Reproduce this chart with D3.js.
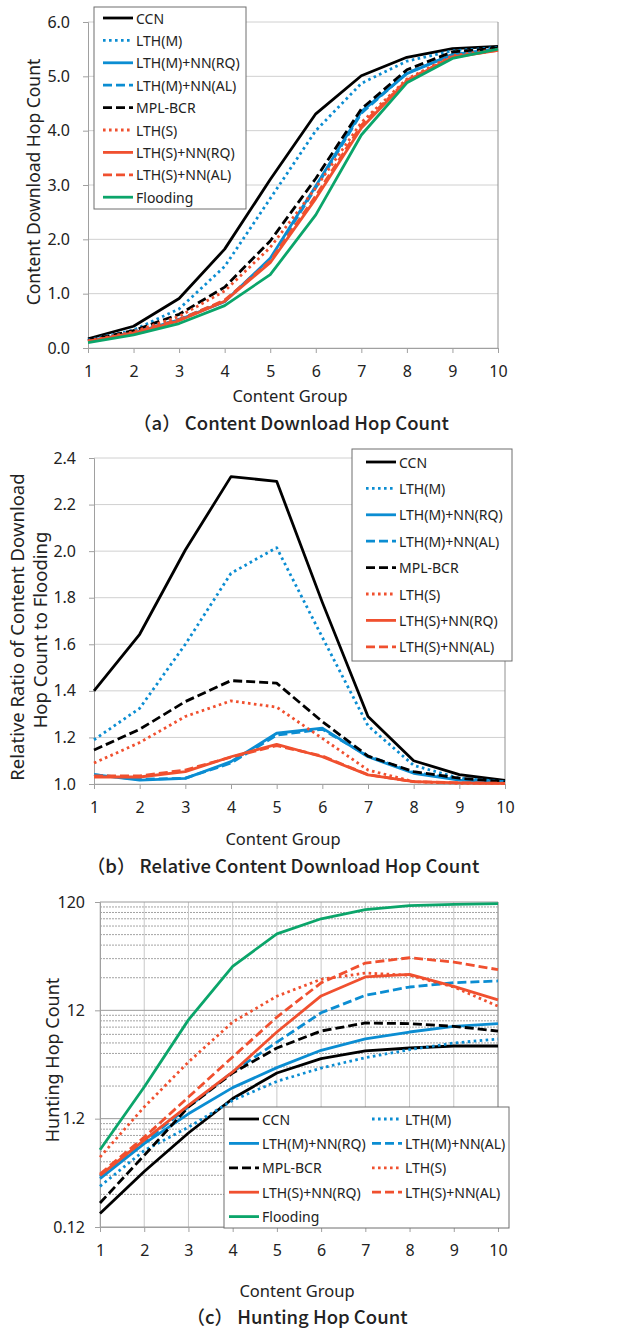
<!DOCTYPE html>
<html>
<head>
<meta charset="utf-8">
<script src="https://cdn.jsdelivr.net/npm/d3@7"></script>
<style>
  body { margin: 0; background: #fff; }
  svg { display: block; }
  text { font-family: "Noto Sans", sans-serif; fill: #222; }
  .caption { font-family: "Noto Sans CJK JP", sans-serif; font-weight: 500; }
</style>
</head>
<body>
<script>
// Data
//= ================================
const groups = [1, 2, 3, 4, 5, 6, 7, 8, 9, 10];
const seriesNames = ['CCN', 'LTH(M)', 'LTH(M)+NN(RQ)', 'LTH(M)+NN(AL)', 'MPL-BCR',
  'LTH(S)', 'LTH(S)+NN(RQ)', 'LTH(S)+NN(AL)', 'Flooding'];

// (a) content download hop count, one row per series in seriesNames order
const downloadHops = [
  [0.17, 0.40, 0.91, 1.82, 3.10, 4.31, 5.01, 5.35, 5.51, 5.55],
  [0.15, 0.33, 0.72, 1.50, 2.75, 4.00, 4.87, 5.28, 5.47, 5.53],
  [0.13, 0.28, 0.52, 0.85, 1.65, 2.98, 4.35, 5.05, 5.40, 5.50],
  [0.13, 0.28, 0.53, 0.86, 1.62, 2.95, 4.32, 5.06, 5.40, 5.50],
  [0.14, 0.32, 0.62, 1.12, 1.97, 3.12, 4.40, 5.12, 5.45, 5.52],
  [0.13, 0.30, 0.58, 1.05, 1.85, 2.95, 4.15, 4.95, 5.38, 5.50],
  [0.12, 0.27, 0.50, 0.86, 1.57, 2.75, 4.05, 4.92, 5.35, 5.48],
  [0.12, 0.28, 0.52, 0.88, 1.60, 2.80, 4.10, 4.93, 5.36, 5.48],
  [0.10, 0.24, 0.45, 0.78, 1.35, 2.45, 3.92, 4.88, 5.33, 5.50]
];

// (b) ratio to flooding (no flooding row)
const relativeHops = [
  [1.40, 1.643, 2.005, 2.32, 2.30, 1.78, 1.29, 1.10, 1.04, 1.015],
  [1.19, 1.325, 1.60, 1.905, 2.015, 1.63, 1.25, 1.08, 1.025, 1.01],
  [1.04, 1.017, 1.024, 1.096, 1.218, 1.24, 1.117, 1.046, 1.017, 1.01],
  [1.04, 1.02, 1.025, 1.09, 1.21, 1.235, 1.12, 1.05, 1.02, 1.01],
  [1.146, 1.235, 1.354, 1.444, 1.433, 1.268, 1.12, 1.053, 1.025, 1.01],
  [1.09, 1.178, 1.29, 1.357, 1.33, 1.196, 1.06, 1.01, 1.003, 1.003],
  [1.03, 1.03, 1.053, 1.117, 1.17, 1.117, 1.039, 1.01, 1.005, 1.003],
  [1.035, 1.035, 1.06, 1.115, 1.165, 1.12, 1.04, 1.01, 1.005, 1.003]
];

// (c) hunting hop count, log axis
const huntingHops = [
  [0.16, 0.39, 0.885, 1.84, 3.17, 4.30, 5.06, 5.39, 5.62, 5.62],
  [0.285, 0.61, 1.0, 1.77, 2.65, 3.52, 4.39, 5.20, 5.99, 6.53],
  [0.335, 0.705, 1.33, 2.32, 3.55, 5.13, 6.53, 7.57, 8.54, 9.04],
  [0.35, 0.73, 1.54, 3.24, 6.1, 11.4, 16.5, 19.7, 21.6, 22.4],
  [0.20, 0.55, 1.54, 3.17, 5.39, 7.73, 9.17, 9.04, 8.54, 7.73],
  [0.53, 1.54, 4.0, 9.36, 16.2, 23.2, 26.5, 25.3, 19.7, 13.1],
  [0.36, 0.76, 1.59, 3.24, 7.57, 16.3, 24.4, 25.8, 20.0, 15.0],
  [0.37, 0.81, 1.9, 4.45, 10.4, 21.5, 32.8, 36.7, 33.5, 28.5],
  [0.62, 2.35, 9.8, 30.6, 61, 84, 102, 111, 114, 116]
];

const downloadTicks = [0, 1, 2, 3, 4, 5, 6];
const relativeTicks = [1.0, 1.2, 1.4, 1.6, 1.8, 2.0, 2.2, 2.4];
const huntingTicks = [0.12, 1.2, 12, 120];

// line styles
const BLUE = '#0b8dd2', RED = '#f0502f', GREEN = '#0ba56a';
const colors = ['#000', BLUE, BLUE, BLUE, '#000', RED, RED, RED, GREEN];
const DOT = '2.6,3.4', DASH = '9,4';
const dashes = [null, DOT, null, DASH, DASH, DOT, null, DASH, null];

let svg = d3.select('body').append('svg')
  .attr('width', 640)
  .attr('height', 1332);

// one panel
// ================================
function drawPanel(cfg) {
  let g = svg.append('g');
  let x = d3.scalePoint().domain(groups).range([cfg.left, cfg.right]);
  let y = cfg.log
    ? d3.scaleLog().domain(cfg.domain).range([cfg.bottom, cfg.top])
    : d3.scaleLinear().domain(cfg.domain).range([cfg.bottom, cfg.top]);

  // gridlines
  if (cfg.log) {
    let minor = [];
    [0.12, 1.2, 12].forEach(b => { for (let k = 2; k <= 9; k++) minor.push(b * k); });
    g.append('g').selectAll('line').data(minor).enter().append('line')
      .attr('x1', cfg.left).attr('x2', cfg.right)
      .attr('y1', d => y(d)).attr('y2', d => y(d))
      .attr('stroke', '#8c8c8c').attr('stroke-width', 0.8)
      .attr('stroke-dasharray', '2,1');
    g.append('g').selectAll('line').data(groups).enter().append('line')
      .attr('x1', d => x(d)).attr('x2', d => x(d))
      .attr('y1', cfg.top).attr('y2', cfg.bottom)
      .attr('stroke', '#c8c8c8').attr('stroke-width', 1);
  }
  g.append('g').selectAll('line').data(cfg.ticks).enter().append('line')
    .attr('x1', cfg.left).attr('x2', cfg.right)
    .attr('y1', d => y(d)).attr('y2', d => y(d))
    .attr('stroke', cfg.log ? '#9a9a9a' : '#d0d0d0').attr('stroke-width', 1);
  g.append('line')
    .attr('x1', cfg.right).attr('x2', cfg.right)
    .attr('y1', cfg.top).attr('y2', cfg.bottom)
    .attr('stroke', '#909090');

  // axes
  let bottomAxis = d3.axisBottom(x).tickSize(5).tickPadding(13);
  let leftAxis = d3.axisLeft(y).tickValues(cfg.ticks).tickSize(5).tickPadding(cfg.log ? 10 : 13)
    .tickFormat(cfg.format);
  let ax = g.append('g').attr('transform', `translate(0, ${cfg.bottom})`).call(bottomAxis);
  let ay = g.append('g').attr('transform', `translate(${cfg.left}, 0)`).call(leftAxis);
  [ax, ay].forEach(a => {
    a.select('.domain').attr('stroke', '#a0a0a0');
    a.selectAll('.tick line').attr('stroke', '#a0a0a0');
    a.selectAll('.tick text').attr('font-size', 16).attr('fill', '#222')
      .attr('font-family', '"Noto Sans", sans-serif');
  });

  // series
  let line = d3.line().x((d, i) => x(groups[i])).y(d => y(d));
  cfg.data.forEach((row, i) => {
    g.append('path')
      .attr('d', line(row))
      .attr('fill', 'none')
      .attr('stroke', colors[i])
      .attr('stroke-width', 2.8)
      .attr('stroke-linejoin', 'round')
      .attr('stroke-dasharray', dashes[i]);
  });

  // axis titles and caption
  g.append('text')
    .attr('x', cfg.xTitle[0]).attr('y', cfg.xTitle[1])
    .attr('text-anchor', 'middle').attr('font-size', 16.5)
    .text('Content Group');
  cfg.yTitle.forEach(t => {
    g.append('text')
      .attr('transform', `translate(${t[0]}, ${t[1]}) rotate(-90)`)
      .attr('text-anchor', 'middle').attr('dominant-baseline', 'central')
      .attr('font-size', t[3])
      .text(t[2]);
  });
  g.append('text')
    .attr('class', 'caption')
    .attr('x', cfg.caption[0]).attr('y', cfg.caption[1])
    .attr('text-anchor', 'middle').attr('font-size', 18.5)
    .text(cfg.caption[2]);

  // legend
  let lg = cfg.legend;
  g.append('rect')
    .attr('x', lg.x).attr('y', lg.y).attr('width', lg.w).attr('height', lg.h)
    .attr('fill', '#fff').attr('stroke', '#6e6e6e');
  cfg.data.forEach((row, i) => {
    let col = i % lg.cols, r = Math.floor(i / lg.cols);
    let sx = lg.x + lg.pad + col * lg.colW;
    let sy = lg.y + lg.first + r * lg.rowH;
    g.append('line')
      .attr('x1', sx).attr('x2', sx + 30).attr('y1', sy).attr('y2', sy)
      .attr('stroke', colors[i]).attr('stroke-width', 2.8)
      .attr('stroke-dasharray', dashes[i]);
    g.append('text')
      .attr('x', sx + 33).attr('y', sy)
      .attr('dominant-baseline', 'central').attr('font-size', 14)
      .text(seriesNames[i]);
  });
}

drawPanel({
  data: downloadHops, left: 88, right: 498, top: 22, bottom: 348,
  domain: [0, 6], ticks: downloadTicks, format: d3.format('.1f'),
  xTitle: [290, 402], yTitle: [[33, 182, 'Content Download Hop Count', 17.5]],
  caption: [291, 430, '（a） Content Download  Hop Count'],
  legend: { x: 94, y: 7, w: 152, h: 202, cols: 1, colW: 0, pad: 9, first: 11, rowH: 22.4 }
});

drawPanel({
  data: relativeHops, left: 94, right: 505, top: 458, bottom: 784,
  domain: [1.0, 2.4], ticks: relativeTicks, format: d3.format('.1f'),
  xTitle: [283, 845],
  yTitle: [[16, 627, 'Relative Ratio of Content Download', 18.5], [39, 630, 'Hop Count to Flooding', 18.5]],
  caption: [283, 873, '（b） Relative Content Download Hop Count'],
  legend: { x: 352, y: 449, w: 160, h: 212, cols: 1, colW: 0, pad: 14, first: 13, rowH: 26.4 }
});

drawPanel({
  data: huntingHops, left: 100, right: 498, top: 902, bottom: 1227, log: true,
  domain: [0.12, 120], ticks: huntingTicks, format: d => String(d),
  xTitle: [297, 1297], yTitle: [[52, 1060, 'Hunting Hop Count', 18]],
  caption: [297, 1324, '（c） Hunting Hop Count'],
  legend: { x: 224, y: 1107, w: 285, h: 121, cols: 2, colW: 143, pad: 5, first: 12, rowH: 24.4 }
});
</script>
</body>
</html>
